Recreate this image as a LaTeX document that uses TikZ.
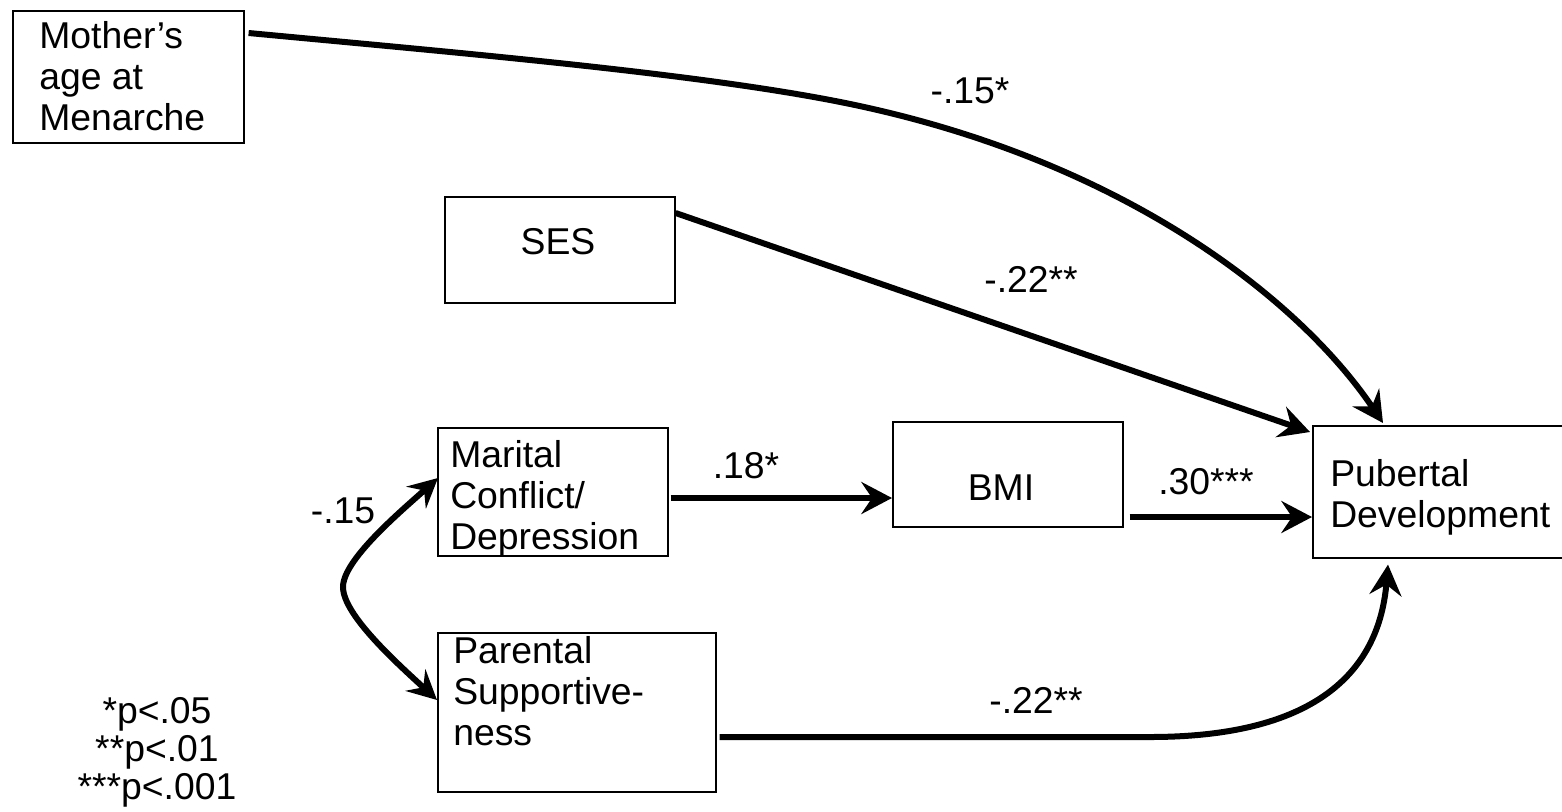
\documentclass[tikz,border=0pt]{standalone}
\usepackage{fontspec}
\setmainfont{Liberation Sans}
\usepackage{tikz}
\usetikzlibrary{arrows.meta,calc,positioning}

\tikzset{
  varbox/.style={draw,rectangle,line width=1.2pt,anchor=north west,inner sep=0pt},
  sz/.style 2 args={minimum width=#1*0.75pt,minimum height=#2*0.75pt},
  boxtxt/.style={anchor=north west,inner sep=0pt,align=left,font=\fontsize{28}{31}\selectfont},
  coef/.style={inner sep=0pt,font=\fontsize{28}{31}\selectfont},
  tip/.style={Stealth[length=23pt,width=24pt,inset=8pt]},
  effect/.style={line width=4.5pt,-{Stealth[length=23pt,width=24pt,inset=8pt]}},
  corr/.style={line width=4.5pt,{Stealth[length=22pt,width=22pt,inset=8pt]}-{Stealth[length=22pt,width=22pt,inset=8pt]}}
}

\begin{document}
\begin{tikzpicture}[x=0.75pt,y=0.75pt,yscale=-1,xscale=1]
  \useasboundingbox[fill=white] (0,0) rectangle (1562,811);

  %Shape: Rectangle (mother)
  \node[varbox,sz={231}{132}] (mother) at (12,10) {};
  %Shape: Rectangle (ses)
  \node[varbox,sz={230}{106}] (ses) at (444,196) {};
  %Shape: Rectangle (marital)
  \node[varbox,sz={230}{128}] (marital) at (437,427) {};
  %Shape: Rectangle (bmi)
  \node[varbox,sz={230}{105}] (bmi) at (892,421) {};
  %Shape: Rectangle (pub)
  \node[varbox,sz={288}{132}] (pub) at (1312,425) {};
  %Shape: Rectangle (parental)
  \node[varbox,sz={278}{159}] (parental) at (437,632) {};

  % Text Node
  \node[boxtxt] (mothertxt) at (39,21) {Mother’s\\age at\\Menarche};
  % Text Node
  \node[coef] (sestxt) at (558,242) {SES};
  % Text Node
  \node[boxtxt] (maritaltxt) at (450,440) {Marital\\Conflict/\\Depression};
  % Text Node
  \node[coef] (bmitxt) at (1001,488) {BMI};
  % Text Node
  \node[boxtxt] (pubtxt) at (1330,459) {Pubertal\\Development};
  % Text Node
  \node[boxtxt] (parentaltxt) at (453,636) {Parental\\Supportive-\\ness};

  %Curve Lines
  \draw[effect] ($(mother.north east)+(4,23)$) .. controls (450,52) and (683,72) .. (830,100)
    .. controls (1120,155) and (1300,300) .. ($(pub.north west)+(71,-2)$);
  %Straight Lines
  \draw[effect] ($(ses.north east)+(0,17)$) -- ($(pub.north west)+(-2,7)$);
  %Straight Lines
  \coordinate (mout) at ($(marital.north east)+(2,71)$);
  \draw[effect] (mout) -- (mout -| bmi.west);
  %Straight Lines
  \coordinate (bout) at ($(bmi.north east)+(6,96)$);
  \draw[effect] (bout) -- (bout -| pub.west);
  %Curve Lines
  \draw[effect] ($(parental.north east)+(3,105)$) -- (1150,737)
    .. controls (1330,737) and (1380,660) .. ($(pub.south west)+(76,6)$);
  %Curve Lines
  \draw[corr] ($(marital.north west)+(1,51)$) .. controls (400,512) and (343,560) .. (343,587)
    .. controls (343,615) and (398,664) .. ($(parental.north west)+(0,68)$);

  % Text Node
  \node[coef] (c1) at (970,91) {-.15*};
  % Text Node
  \node[coef] (c2) at (1031,279) {-.22**};
  % Text Node
  \node[coef] (c3) at (746,466) {.18*};
  % Text Node
  \node[coef] (c4) at (1206,482) {.30***};
  % Text Node
  \node[coef] (c5) at (1036,700) {-.22**};
  % Text Node
  \node[coef] (c6) at (343,511) {-.15};

  % Text Node
  \node[coef,align=center,anchor=north,font=\fontsize{28}{28.5}\selectfont] (legend) at (157,697) {*p<.05\\{}**p<.01\\{}***p<.001};
\end{tikzpicture}
\end{document}
